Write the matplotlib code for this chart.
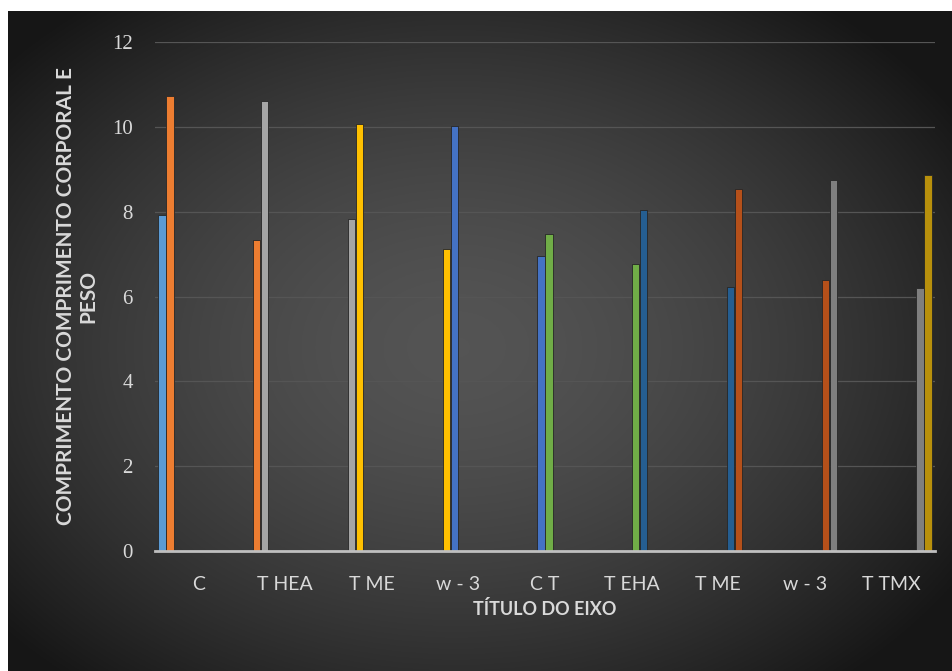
import matplotlib.pyplot as plt
import numpy as np

# Categories along the x axis
categories = ['C', 'T HEA', 'T ME', 'w - 3', 'C T', 'T EHA', 'T ME', 'w - 3', 'T TMX']

# Ten series, each one filled in for two neighbouring categories only
series_colors = ['#5B9BD5', '#ED7D31', '#A5A5A5', '#FFC000', '#4472C4',
                 '#70AD47', '#255E91', '#B5501A', '#7F7F7F', '#B8900C']
series_values = [
    [7.92, 0, 0, 0, 0, 0, 0, 0, 0],
    [10.73, 7.33, 0, 0, 0, 0, 0, 0, 0],
    [0, 10.61, 7.83, 0, 0, 0, 0, 0, 0],
    [0, 0, 10.07, 7.13, 0, 0, 0, 0, 0],
    [0, 0, 0, 10.02, 6.96, 0, 0, 0, 0],
    [0, 0, 0, 0, 7.47, 6.77, 0, 0, 0],
    [0, 0, 0, 0, 0, 8.04, 6.23, 0, 0],
    [0, 0, 0, 0, 0, 0, 8.53, 6.40, 0],
    [0, 0, 0, 0, 0, 0, 0, 8.75, 6.21],
    [0, 0, 0, 0, 0, 0, 0, 0, 8.86],
]
y_ticks = [0, 2, 4, 6, 8, 10, 12]

W, H = 952, 671
fig = plt.figure(figsize=(W / 100, H / 100), dpi=100)
fig.patch.set_facecolor('white')

# dark radial backdrop
bg = fig.add_axes([8 / W, 0, (W - 8) / W, (H - 11) / H])
gx, gy = np.meshgrid(np.linspace(-1, 1, 600), np.linspace(-1, 1, 420))
r = np.sqrt(((gx + 0.05) / 1.05) ** 2 + ((gy - 0.02) / 1.1) ** 2)
shade = 0.33 - 0.18 * np.clip(r, 0, 1.2) ** 1.6
bg.imshow(np.dstack([shade] * 3), aspect='auto', extent=[0, 1, 0, 1])
bg.set_axis_off()

ax = fig.add_axes([155 / W, 120 / H, 780 / W, 509 / H])
ax.set_facecolor('none')

n = len(series_values)
slot = 0.093
x = np.arange(len(categories))
for i, (vals, col) in enumerate(zip(series_values, series_colors)):
    offs = -0.5 + (1 - n * slot) / 2 + (i + 0.5) * slot
    ax.bar(x + offs, vals, width=slot * 0.9, color=col,
           edgecolor='#262626', linewidth=0.6, zorder=3)

ax.set_xlim(-0.5, len(categories) - 0.5)
ax.set_ylim(0, 12)
ax.set_yticks(y_ticks)
ax.set_yticklabels([str(v) for v in y_ticks], family='Liberation Serif',
                   fontsize=15, color='#D9D9D9')
ax.set_xticks(x)
ax.set_xticklabels(categories, family='Lato', fontsize=14, color='#D9D9D9')
ax.tick_params(length=0, pad=18)
ax.tick_params(axis='y', pad=16)

ax.grid(axis='y', color='#555555', linewidth=0.9, zorder=0)
ax.set_axisbelow(True)
for s in ['top', 'right', 'left']:
    ax.spines[s].set_visible(False)
ax.spines['bottom'].set_color('#BFBFBF')
ax.spines['bottom'].set_linewidth(2)
ax.spines['bottom'].set_zorder(4)

ax.set_xlabel('TÍTULO DO EIXO', family='Lato', fontsize=13,
              fontweight='bold', color='#D9D9D9', labelpad=5)
ax.set_ylabel('COMPRIMENTO COMPRIMENTO CORPORAL E\nPESO',
              family='Lato', fontsize=15, fontweight='bold',
              color='#D9D9D9', labelpad=10, linespacing=1.15)

fig.savefig('out.png', dpi=100)
